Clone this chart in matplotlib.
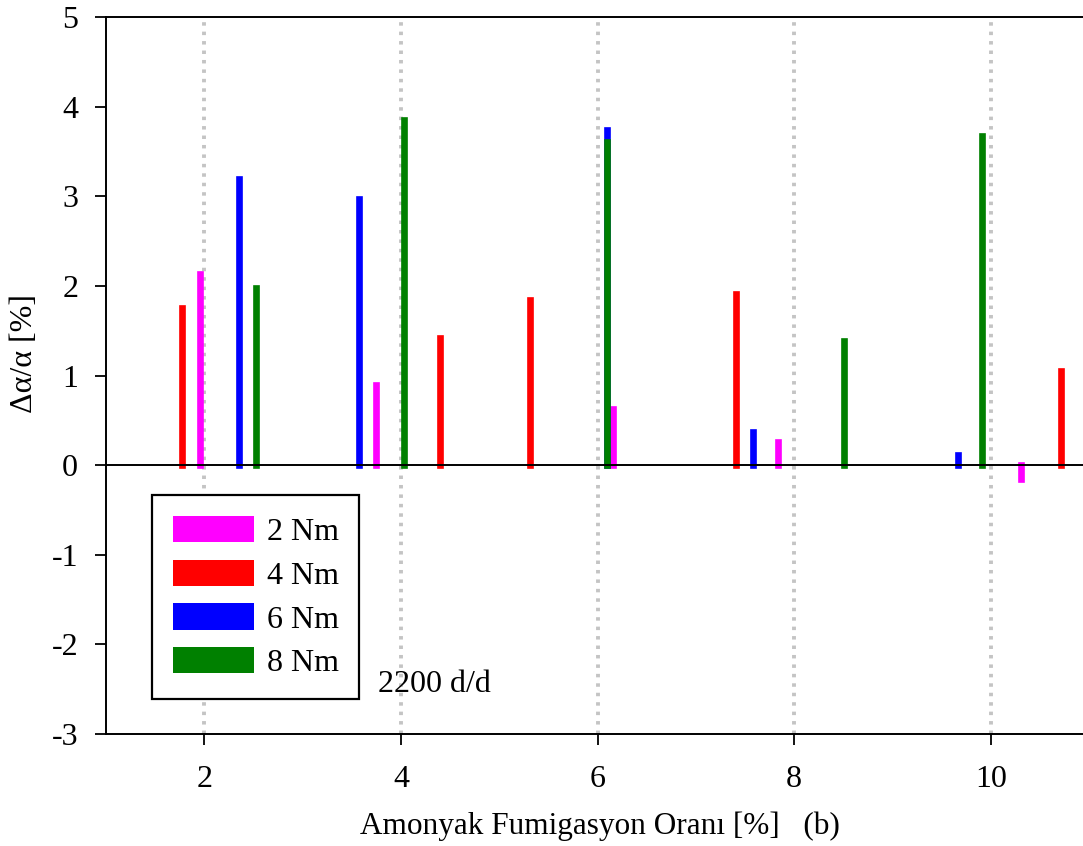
import matplotlib
matplotlib.use("Agg")
import matplotlib.pyplot as plt
from matplotlib.patches import Patch

plt.rcParams["font.family"] = ["Liberation Serif", "DejaVu Serif"]
plt.rcParams["lines.scale_dashes"] = False
plt.rcParams["axes.unicode_minus"] = False

# Fumigation ratio positions (x) and relative change (y) for each torque
x_2nm = [1.96, 3.75, 6.16, 7.84, 10.31]
y_2nm = [2.13, 0.89, 0.63, 0.26, -0.16]

x_4nm = [1.77, 4.40, 5.31, 7.41, 10.72]
y_4nm = [1.75, 1.42, 1.84, 1.91, 1.05]

x_6nm = [2.35, 3.57, 6.10, 7.58, 9.67]
y_6nm = [3.19, 2.97, 3.74, 0.37, 0.11]

x_8nm = [2.53, 4.03, 6.10, 8.51, 9.91]
y_8nm = [1.98, 3.85, 3.60, 1.38, 3.67]

series = [
    ("2 Nm", x_2nm, y_2nm, "#ff00ff"),
    ("4 Nm", x_4nm, y_4nm, "#ff0000"),
    ("6 Nm", x_6nm, y_6nm, "#0000ff"),
    ("8 Nm", x_8nm, y_8nm, "#008000"),
]

xticks = [2, 4, 6, 8, 10]
yticks = [-3, -2, -1, 0, 1, 2, 3, 4, 5]

W, H = 1083, 846
fig = plt.figure(figsize=(W / 100, H / 100), dpi=100)
ax = fig.add_axes([106 / W, 112 / H, 983 / W, 717 / H])

ax.set_xlim(1, 11)
ax.set_ylim(-3, 5)

# dotted vertical grid
for xt in xticks:
    ax.axvline(xt, color="#c4c4c4", lw=2.8, linestyle=(0, (2.5, 4.3)), zorder=1)

# bars drawn as thick lines with projecting caps
handles = []
for label, xs, ys, col in series:
    ax.vlines(xs, 0, ys, colors=col, lw=4.8, capstyle="projecting", zorder=2)
    handles.append(Patch(facecolor=col, edgecolor="none", label=label))

ax.axhline(0, color="black", lw=1.4, zorder=3)

ax.set_xticks(xticks)
ax.set_yticks(yticks)
ax.tick_params(axis="both", direction="out", length=8, width=1.3, labelsize=23, color="black")
ax.tick_params(axis="x", pad=14)
ax.tick_params(axis="y", pad=12)
for side in ["left", "bottom", "top"]:
    ax.spines[side].set_linewidth(1.4)
ax.spines["right"].set_visible(False)

fig.text(600 / W, 1 - 826 / H, "Amonyak Fumigasyon Oranı [%]   (b)",
         ha="center", va="center", fontsize=22.5)
fig.text(25 / W, 1 - 353 / H, "Δα/α [%]", rotation=90,
         ha="center", va="center", fontsize=23)

ax.text(3.77, -2.45, "2200 d/d", ha="left", va="center", fontsize=23)

leg = ax.legend(handles=handles, loc="upper left",
                bbox_to_anchor=(152 / W, 1 - 495 / H), bbox_transform=fig.transFigure,
                borderaxespad=0, fontsize=23, handlelength=2.54, handleheight=0.88,
                handletextpad=0.4, labelspacing=0.4, borderpad=0.65,
                fancybox=False, framealpha=1, edgecolor="black")
leg.get_frame().set_linewidth(1.6)

fig.savefig("out.png", dpi=100)
